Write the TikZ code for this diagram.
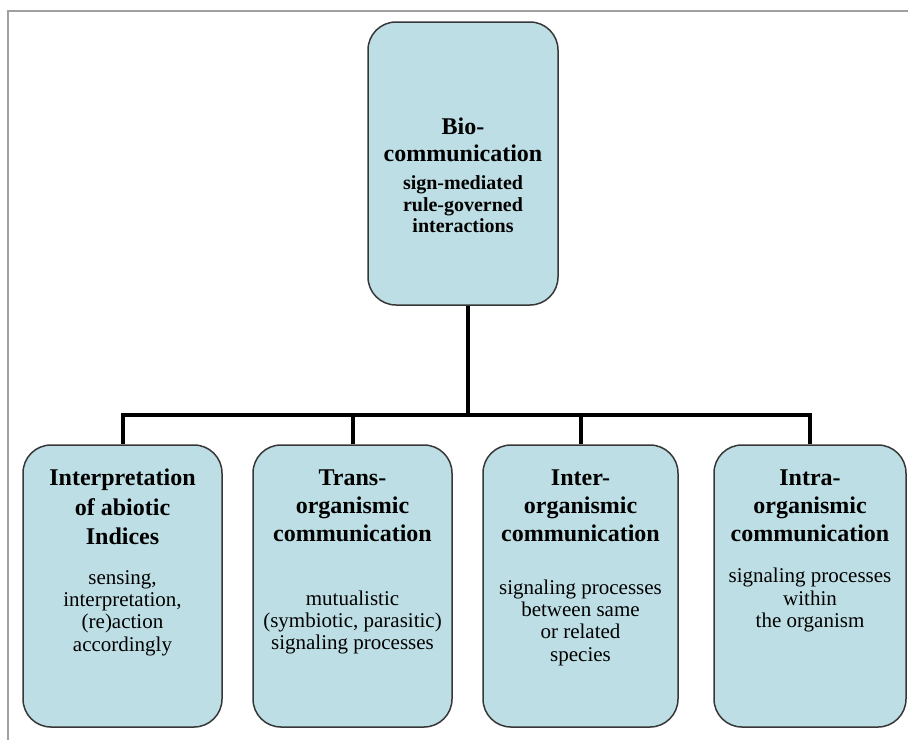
\documentclass[tikz,border=0pt]{standalone}
\usepackage{fontspec}
\setmainfont{Liberation Serif}
\definecolor{boxfill}{RGB}{189,222,228}
\definecolor{boxline}{RGB}{55,55,55}
\definecolor{framegray}{RGB}{160,160,160}
\begin{document}
\begin{tikzpicture}[x=1pt,y=-1pt,
  box/.style={draw=boxline, fill=boxfill, line width=1.5pt, rounded corners=28pt, inner sep=0pt},
  title/.style={font=\fontsize{24}{28}\selectfont\bfseries, align=center, inner sep=0pt},
  topsub/.style={font=\fontsize{20}{21.5}\selectfont\bfseries, align=center, inner sep=0pt},
  body/.style={font=\fontsize{21}{22.3}\selectfont, align=center, inner sep=0pt},
  conn/.style={line width=4pt, black, line join=miter}]
\useasboundingbox (0,0) rectangle (908,740);
\draw[framegray, line width=1.5pt] (8,740) -- (8,11) -- (908,11);

\node[box, minimum width=190pt, minimum height=283pt] (top) at (463,163.5) {};
\node[box, minimum width=199pt, minimum height=282pt] (b1) at (122.5,586) {};
\node[box, minimum width=199pt, minimum height=282pt] (b2) at (352.5,586) {};
\node[box, minimum width=195pt, minimum height=282pt] (b3) at (580.5,586) {};
\node[box, minimum width=192pt, minimum height=282pt] (b4) at (810,586) {};

\coordinate (bar) at (468,415);
\draw[conn] ([xshift=5pt]top.south) -- ([xshift=5pt]top.south |- bar);
\draw[conn] (b1.north) |- (b4.north |- bar) -- (b4.north);
\draw[conn] (b2.north) -- (b2.north |- bar);
\draw[conn] (b3.north) -- (b3.north |- bar);

\node[title, font=\fontsize{24}{27}\selectfont\bfseries] (t0) at (463,140) {Bio-\\communication};
\node[topsub] (s0) at (463,204.5) {sign-mediated\\rule-governed\\interactions};

\node[title, font=\fontsize{24}{29.5}\selectfont\bfseries] (t1) at (122.5,507) {Interpretation\\of abiotic\\Indices};
\node[body] (s1) at (122.5,613) {sensing,\\interpretation,\\(re)action\\accordingly};

\node[title] (t2) at (352.5,506) {Trans-\\organismic\\communication};
\node[body] (s2) at (352.5,622.5) {mutualistic\\(symbiotic, parasitic)\\signaling processes};

\node[title] (t3) at (580.5,506) {Inter-\\organismic\\communication};
\node[body] (s3) at (580.5,622.5) {signaling processes\\between same\\or related\\species};

\node[title] (t4) at (810,506) {Intra-\\organismic\\communication};
\node[body] (s4) at (810,600) {signaling processes\\within\\the organism};
\end{tikzpicture}
\end{document}
